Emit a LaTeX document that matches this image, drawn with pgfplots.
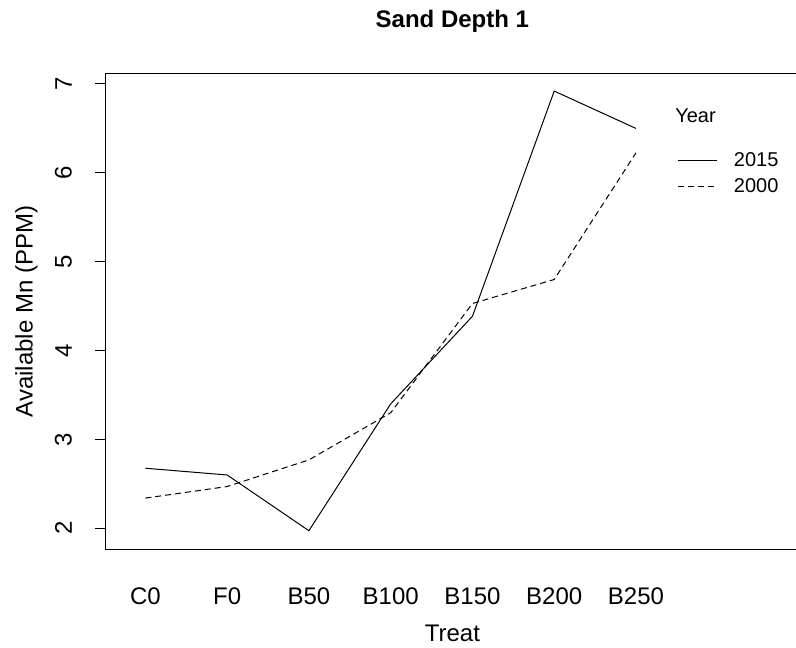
\documentclass[border=0pt]{standalone}
\usepackage{fontspec}
\setmainfont{Liberation Sans}
\usepackage{pgfplots}
\pgfplotsset{compat=1.18}
\begin{document}
\begin{tikzpicture}
\useasboundingbox (0,0) rectangle (597pt,485.25pt);
\clip (0,0) rectangle (597pt,485.25pt);
\begin{axis}[
  at={(79.275pt,73.5pt)}, anchor=south west,
  scale only axis, width=520pt, height=356.25pt,
  xmin=0.515, xmax=8.994, ymin=1.767, ymax=7.1125,
  xtick={1,2,3,4,5,6,7},
  xticklabels={C0,F0,B50,B100,B150,B200,B250},
  ytick={2,3,4,5,6,7},
  /pgf/number format/assume math mode=true,
  axis line style={line width=0.75pt, black},
  x tick style={draw=none},
  y tick style={line width=0.75pt, black},
  tick align=outside,
  major tick length=8.25pt,
  xtick pos=bottom, ytick pos=left,
  tick label style={font=\fontsize{18}{21}\selectfont},
  xticklabel style={anchor=north, inner sep=0pt, yshift=-20.25pt},
  yticklabel style={rotate=90, anchor=south, inner sep=0pt},
  yticklabel shift=17pt,
  xlabel={Treat},
  ylabel={Available Mn (PPM)},
  label style={font=\fontsize{18}{21}\selectfont},
  xlabel style={at={(axis description cs:0.5,-0.1937)}, anchor=base, inner sep=0pt},
  ylabel style={at={(axis description cs:-0.0977,0.5)}, rotate=0, anchor=south, inner sep=0pt},
  title={Sand Depth 1},
  title style={font=\fontsize{18}{21}\selectfont\bfseries, at={(axis description cs:0.5,1.08)}, anchor=base, inner sep=0pt},
  legend style={draw=none, fill=none, inner sep=0pt, outer sep=0pt,
    at={(axis cs:7.513,6.2235)}, anchor=north west,
    nodes={inner sep=0pt, font=\fontsize{15}{18}\selectfont},
    row sep=7.3pt,
    /tikz/every odd column/.append style={column sep=12pt}},
  legend cell align=left,
  legend image code/.code={\draw[#1] (0pt,0pt) -- (29.25pt,0pt);},
]
\addplot[black, line width=0.75pt] coordinates {
 (1,2.676) (2,2.60) (3,1.973) (4,3.40) (5,4.386) (6,6.92) (7,6.50)};
\addlegendentry{2015}
\addplot[black, line width=0.75pt, dash pattern=on 4.5pt off 3pt] coordinates {
 (1,2.34) (2,2.47) (3,2.77) (4,3.30) (5,4.53) (6,4.80) (7,6.225)};
\addlegendentry{2000}
\node[anchor=base west, inner sep=0pt, font=\fontsize{15}{18}\selectfont] at (axis cs:7.477,6.561) {Year};
\end{axis}
\end{tikzpicture}
\end{document}
